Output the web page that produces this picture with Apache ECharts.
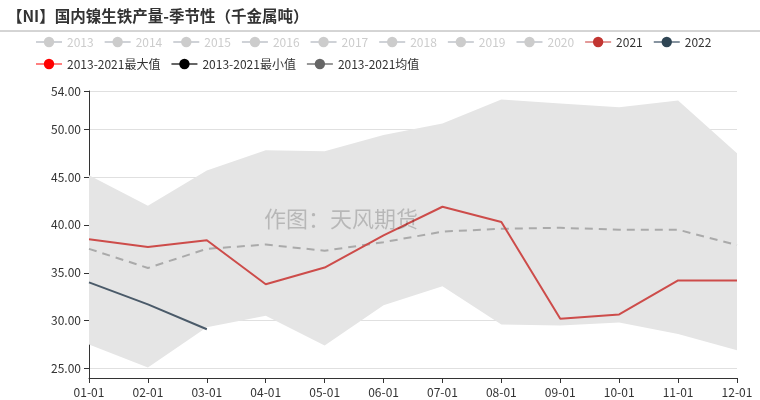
<!DOCTYPE html>
<html><head><meta charset="utf-8">
<script src="https://cdn.jsdelivr.net/npm/echarts@6/dist/echarts.min.js"></script>
<style>html,body{margin:0;padding:0;background:#fff}#c{width:760px;height:400px}</style>
</head><body><div id="c"></div>
<script>
var categories = ['01-01','02-01','03-01','04-01','05-01','06-01','07-01','08-01','09-01','10-01','11-01','12-01'];
var hiddenYears = ['2013','2014','2015','2016','2017','2018','2019','2020'];
var y2021 = [38.5, 37.7, 38.4, 33.8, 35.55, 38.9, 41.9, 40.3, 30.2, 30.65, 34.2, 34.2];
var y2022 = [34.0, 31.7, 29.1];
var maxVals = [45.2, 42.0, 45.7, 47.8, 47.7, 49.4, 50.6, 53.1, 52.7, 52.3, 53.0, 47.5];
var minVals = [27.5, 25.1, 29.3, 30.5, 27.4, 31.6, 33.6, 29.6, 29.5, 29.8, 28.6, 26.9];
var meanVals = [37.5, 35.5, 37.5, 37.95, 37.3, 38.2, 39.3, 39.6, 39.7, 39.5, 39.5, 37.9];

var font = '"Noto Sans CJK SC", "Noto Sans", sans-serif';
var series = [];
var selected = {};
var legendData = [];
hiddenYears.forEach(function(y){
  series.push({name:y, type:'line', data:[], symbol:'circle', symbolSize:12, itemStyle:{color:'#999'}});
  selected[y] = false;
  legendData.push({name:y});
});
series.push({name:'2021', type:'line', data:y2021, symbol:'circle', symbolSize:12, showSymbol:false, z:5,
  itemStyle:{color:'#c23531'}, lineStyle:{color:'#cd4c4a', width:2}});
series.push({name:'2022', type:'line', data:y2022, symbol:'circle', symbolSize:12, showSymbol:false, z:5,
  itemStyle:{color:'#2f4554'}, lineStyle:{color:'#4a5a69', width:2}});
series.push({name:'2013-2021最小值', type:'line', stack:'band', data:minVals, symbol:'circle', symbolSize:12, showSymbol:false,
  itemStyle:{color:'#000'}, lineStyle:{opacity:0}});
series.push({name:'2013-2021最大值', type:'line', stack:'band',
  data:maxVals.map(function(v,i){return +(v-minVals[i]).toFixed(3);}), symbol:'circle', symbolSize:12, showSymbol:false,
  itemStyle:{color:'#ff0000'}, lineStyle:{opacity:0}, areaStyle:{color:'#e5e5e5', opacity:1}});
series.push({name:'2013-2021均值', type:'line', data:meanVals, symbol:'circle', symbolSize:12, showSymbol:false, z:4,
  itemStyle:{color:'#666'}, lineStyle:{color:'#aaa', width:2, type:[8,6]}});

legendData.push({name:'2021', itemStyle:{color:'#c23531'}, lineStyle:{color:'#e39a99', width:2, type:'solid'}});
legendData.push({name:'2022', itemStyle:{color:'#2f4554'}, lineStyle:{color:'#8794a0', width:2, type:'solid'}});
legendData.push({name:'2013-2021最大值', itemStyle:{color:'#ff0000'}, lineStyle:{color:'#ff8080', width:2, opacity:1, type:'solid'}});
legendData.push({name:'2013-2021最小值', itemStyle:{color:'#000'}, lineStyle:{color:'#666', width:2, opacity:1, type:'solid'}});
legendData.push({name:'2013-2021均值', itemStyle:{color:'#666'}, lineStyle:{color:'#999', width:2, opacity:1, type:'solid'}});

var chart = echarts.init(document.getElementById('c'));
chart.setOption({
  animation:false,
  textStyle:{fontFamily:font},
  title:{text:'【NI】国内镍生铁产量-季节性（千金属吨）', left:2, top:3,
    textStyle:{fontSize:15.5, fontWeight:'bold', color:'#333', fontFamily:font}},
  graphic:[
    {type:'line', shape:{x1:0,y1:31,x2:760,y2:31}, style:{stroke:'#aaa', lineWidth:1}},
    {type:'text', left:264, top:208, z:100, style:{text:'作图：天风期货', fontSize:22, fill:'rgba(0,0,0,0.2)', fontFamily:font}}
  ],
  legend:{left:30, right:20, top:31, itemGap:10, itemWidth:26, itemHeight:13,
    textStyle:{fontSize:12, color:'#333'}, inactiveColor:'#ccc', selected:selected,
    data:legendData},
  grid:{left:89, right:23, top:91, bottom:22},
  xAxis:{type:'category', data:categories, boundaryGap:false,
    axisLine:{lineStyle:{color:'#333'}}, axisTick:{alignWithLabel:true},
    axisLabel:{color:'#333', fontSize:12}},
  yAxis:{type:'value', min:24, max:54,
    axisLine:{show:true, lineStyle:{color:'#333'}}, axisTick:{show:true},
    splitLine:{lineStyle:{color:'#e0e0e0'}},
    axisLabel:{color:'#333', fontSize:12, showMinLabel:false, formatter:function(v){return v.toFixed(2);}}},
  series:series
});
</script></body></html>
